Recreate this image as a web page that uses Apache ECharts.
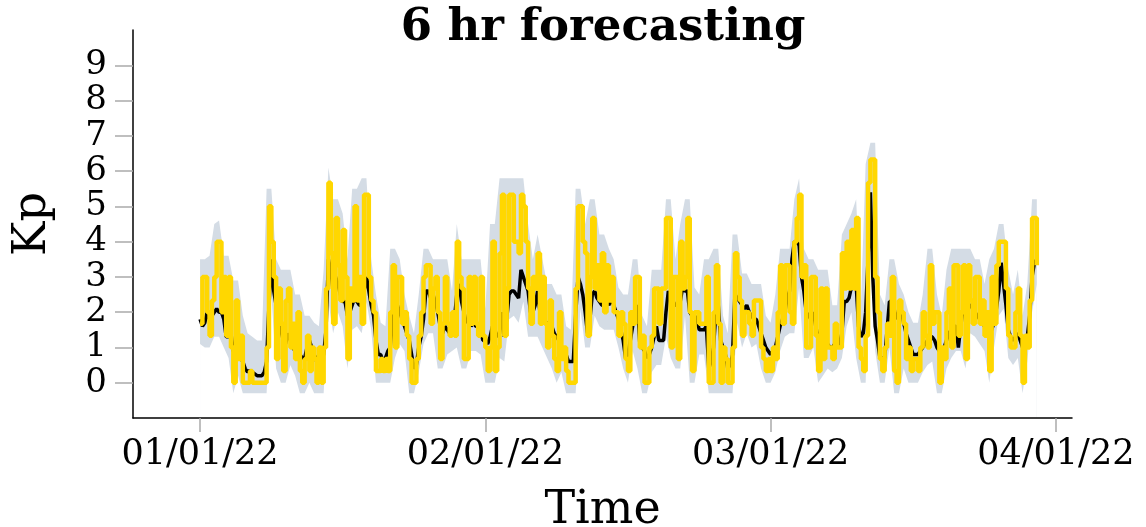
<!DOCTYPE html>
<html>
<head>
<meta charset="utf-8">
<script src="https://cdn.jsdelivr.net/npm/echarts@6/dist/echarts.min.js"></script>
<style>
  html, body { margin: 0; padding: 0; background: #ffffff; }
  #chart { width: 1146px; height: 527px; }
</style>
</head>
<body>
<div id="chart"></div>
<script>
// Observed Kp (3-hourly index, sampled every 6 h), days since 01/01/22
const OBS_STEP = 0.25;
const kpObserved = [
  1.67,3,3,2, 1.33,2.33,3,4, 4,2,3,1.33, 3,1,0,2.33, 0.67,1.33,0,0,
  0,0.33,0,0, 0,0,0,0, 1,5,4,3, 0.67,2.67,1.67,0.33, 2.33,2.67,1,1.67,
  0.67,2,0.33,0, 0.67,1.33,0.33,1, 0.67,0,1,0, 1,2.67,5.67,3.67, 1.67,4.67,3.33,2.33,
  4.33,3,0.67,2.67, 2.33,5,2.33,3, 1.67,5.33,5.33,3, 2.33,2,0.33,0.33, 0.67,0.33,0.67,0.33,
  2,3.33,1,3, 3,1.67,2,1.33, 0.67,0,0,0.67, 1.33,2,3,3.33, 3.33,1.67,2.67,3,
  2,0.67,1.67,3, 1.67,1.33,2,1.33, 4,3,2.67,0.67, 0.67,3,1.67,3, 1.67,1.33,3,1.33,
  1,0.33,1,4, 0.33,1,3.67,5.33, 1.33,2.67,5.33,5.33, 4,4,3.67,5.33, 5,4,2.67,1.67,
  3,2.67,3.67,1.67, 3,1.67,1,2.33, 1.33,0.67,0.33,2, 0.67,1,0.33,0, 0,0,2.67,5,
  5,4,3.67,1.33, 3,4.67,2.67,3.33, 2.33,3.67,2,3.33, 2.33,3,2,2, 1.33,2,1.67,0.67,
  0.33,2,1.67,3, 3,1,1.33,0, 0,1,1.33,2.67, 2.67,1.67,2.67,2.67, 4.67,4.67,1,3,
  3,0.67,4,2.67, 3,4.67,2,0.33, 2,2,1.67,1.67, 1.67,3,0,0, 2,3.33,1.67,0,
  1,0.67,0,0, 1,3.67,3,2.33, 1.33,2,2,1.67, 1.33,2.33,2.33,2.33, 1,0.67,0.33,0.67,
  0.33,1,0.67,2, 3.33,1.67,3.33,3.33, 2,1.67,4,4.67, 5.33,3,3.33,1, 1,3,3,1.33,
  0.33,2.67,0.67,2.67, 1,1,0.67,1.67, 1,1,3.67,2.67, 4,2.67,4.33,2.67, 4.67,1,0.67,0.33,
  1.33,5.67,6.33,6.33, 3,2,0.67,0.33, 1,1.67,1.33,3, 0.33,0,2.33,2, 1.67,0.67,1,0.33,
  0.67,0.67,0.33,1, 2,1.33,1,3.33, 1.67,2,2,0, 1,0.67,2,2.67, 1,3.33,3.33,1.33,
  2,3.33,0.67,3.33, 2.33,1.67,3,3, 1.67,2.33,1.33,2, 0.33,3,1.67,3.33, 4,4,4,2.67,
  1.33,1,1,2, 2.67,1.33,0,1.33, 1,2.33,4.67,4.67, 3.33
];

// 6 hr ahead forecast, same sampling
const kpForecast = [
  1.8,1.6,1.7,2.0, 1.8,1.9,2.0,2.1, 2.0,2.0,1.8,1.3, 1.3,1.4,0.9,0.8, 0.9,0.7,0.6,0.4,
  0.3,0.35,0.3,0.25, 0.2,0.2,0.2,0.3, 0.6,2.2,3.5,2.6, 2.2,1.8,1.5,1.2, 1.1,1.4,1.2,1.0,
  0.9,1.0,0.8,0.7, 0.7,1.0,1.2,1.0, 0.8,0.6,0.8,0.6, 0.8,1.5,3.5,3.2, 2.6,3.0,2.8,2.5,
  2.3,2.3,1.9,2.0, 2.2,2.4,2.3,2.2, 2.2,2.6,3.0,2.6, 2.2,1.9,1.2,0.8, 0.8,0.6,0.7,0.9,
  1.0,1.8,2.3,2.2, 2.0,1.8,1.6,1.4, 1.2,0.8,0.4,0.5, 1.0,1.3,1.8,2.6, 2.6,2.4,2.5,2.3,
  2.0,1.6,1.4,1.6, 1.5,1.4,1.6,1.8, 2.5,2.8,2.3,2.0, 1.7,1.8,1.6,1.7, 1.6,1.6,1.5,1.2,
  1.2,1.1,1.3,1.6, 1.5,1.3,1.4,2.0, 1.3,1.8,2.5,2.6, 2.6,2.5,2.4,3.2, 3.0,2.8,2.6,2.0,
  2.0,2.2,2.6,2.0, 1.9,1.7,1.7,1.7, 1.6,1.4,1.3,1.2, 1.0,0.9,0.8,0.6, 0.6,0.6,1.9,3.0,
  2.8,2.5,2.0,1.4, 1.8,2.5,2.6,2.4, 2.3,2.2,2.2,2.3, 2.2,2.4,2.2,2.0, 1.8,1.5,1.2,0.7,
  0.8,1.2,1.6,2.0, 2.2,1.1,1.0,0.9, 0.7,0.8,1.0,1.3, 1.6,1.2,1.2,1.2, 2.0,2.6,2.4,2.3,
  2.2,2.2,2.3,2.7, 2.6,2.6,2.0,1.9, 1.9,1.8,1.5,1.5, 1.5,1.6,0.4,0.6, 1.0,2.0,2.2,1.2,
  1.0,0.8,0.4,0.5, 0.8,2.5,2.4,2.3, 2.2,2.1,2.2,2.0, 1.9,1.8,1.8,1.6, 1.4,1.2,1.0,0.9,
  0.8,0.9,1.0,1.3, 1.6,1.8,2.0,2.4, 2.6,3.5,4.0,4.0, 3.9,3.0,2.6,2.0, 1.9,1.8,2.0,1.6,
  1.3,1.0,0.9,1.0, 1.1,1.0,1.0,1.1, 1.1,1.1,1.4,2.3, 2.3,2.4,2.7,3.2, 2.8,1.6,1.3,1.4,
  2.0,3.5,5.4,3.0, 1.6,1.2,0.7,0.7, 0.7,1.5,2.3,2.3, 2.0,1.8,2.1,2.0, 1.7,1.4,1.2,1.0,
  0.8,0.8,0.8,0.9, 1.0,1.1,1.2,1.3, 1.3,1.2,1.0,0.9, 0.9,1.0,1.2,1.4, 1.5,1.6,1.6,1.0,
  1.6,2.1,2.2,2.2, 2.2,2.1,2.0,1.9, 1.8,1.7,1.6,1.5, 1.4,1.5,1.7,2.1, 2.6,3.4,2.8,2.2,
  1.5,1.3,1.2,1.3, 1.4,1.2,1.0,1.1, 1.3,1.9,3.0,3.4, 3.5
];

// Forecast spread, sampled every 12 h
const BAND_STEP = 0.5;
const bandUpper = [
  3.5,3.5, 3.6,4.5, 4.6,3.6, 3.6,2.9, 2.9,1.9, 1.4,1.3, 1.2,1.2, 5.5,5.5, 3.5,3.2, 3.2,3.2,
  2.5,2.5, 1.9,1.9, 1.7,1.6, 3.2,6.1, 5.2,5.2, 4.8,3.5, 5.5,5.5, 5.8,5.8, 3.5,2.5, 1.7,1.6,
  3.8,3.8, 3.5,2.5, 1.9,1.4, 2.5,3.8, 3.8,3.5, 3.5,3.5, 3.5,2.6, 4.5,3.5, 3.5,3.5, 3.5,3.5,
  2.1,4.5, 4.5,5.8, 5.8,5.8, 5.8,5.8, 5.8,4.5, 3.5,4.2, 3.5,2.8, 2.8,2.5, 2.5,1.6, 1.5,5.5,
  5.5,4.5, 5.2,5.2, 4.2,4.2, 3.8,3.5, 2.7,2.5, 2.5,3.5, 3.5,1.9, 1.6,3.2, 3.2,3.2, 5.2,5.2,
  3.5,4.5, 5.2,5.2, 2.7,2.5, 3.5,3.5, 3.8,3.8, 1.9,1.4, 4.2,4.2, 3.1,3.1, 2.8,2.8, 2.8,1.9,
  1.7,2.5, 3.8,3.8, 3.8,5.2, 5.8,3.8, 3.5,3.5, 3.2,3.2, 3.2,2.2, 2.2,4.2, 4.5,4.8, 5.2,2.2,
  6.2,6.8, 6.8,2.5, 2.2,3.5, 3.5,2.8, 2.5,2.0, 1.7,1.7, 2.5,3.8, 3.8,2.5, 1.9,3.2, 3.8,3.8,
  3.8,3.8, 3.8,3.5, 3.5,2.8, 3.5,3.8, 4.5,4.5, 3.2,2.5, 3.2,1.9, 2.8,5.2, 5.2
];
const bandLower = [
  1.1,1.0, 1.0,1.3, 1.3,1.0, 0.7,-0.3, 0.2,-0.3, -0.3,-0.3, -0.3,-0.3, -0.3,2.5, 0.4,0.0, 0.0,0.5,
  0.2,-0.3, -0.3,0.0, -0.3,-0.3, -0.3,2.3, 1.4,2.0, 1.6,0.4, 1.5,1.6, 1.4,2.3, 1.5,0.0, 0.0,0.0,
  0.0,0.7, 1.1,0.9, -0.3,-0.3, 0.3,1.1, 1.4,1.4, 0.4,0.4, 0.8,0.9, 1.0,0.4, 0.4,0.9, 0.9,0.8,
  0.0,0.0, 0.0,0.7, 0.6,1.8, 1.9,1.7, 2.3,1.3, 1.3,1.3, 1.0,0.7, 0.4,0.0, 0.3,-0.3, -0.3,-0.3,
  2.1,1.0, 1.0,1.9, 1.6,1.5, 1.5,1.5, 1.0,0.4, 0.0,0.9, 0.4,-0.3, -0.3,0.3, 0.5,0.5, 1.3,0.7,
  0.4,0.4, 1.9,0.0, 0.0,0.8, 0.8,-0.3, -0.3,-0.3, -0.3,-0.3, -0.3,1.7, 1.0,1.4, 1.0,1.1, 0.4,0.0,
  0.0,0.3, 0.9,1.3, 1.4,1.4, 2.7,0.7, 0.7,1.0, 0.0,0.2, 0.4,0.3, 0.4,0.7, 1.6,2.0, 0.7,0.0,
  0.0,4.7, 0.9,0.0, 0.0,1.0, -0.3,-0.3, 0.4,0.0, 0.0,0.0, 0.3,0.5, 0.6,-0.3, -0.3,0.4, 0.7,0.9,
  0.9,0.4, 1.4,1.3, 1.1,0.9, 0.0,1.0, 1.9,2.1, 0.7,0.5, 0.7,-0.3, 0.6,2.0, 2.8
];

// Axis ticks
const tickDays = [0, 30, 60, 90];
const tickLabels = ['01/01/22', '02/01/22', '03/01/22', '04/01/22'];
const kpTicks = [0, 1, 2, 3, 4, 5, 6, 7, 8, 9];

const FONT = 'DejaVu Serif';
const BAND_COLOR = '#d4dce5';

const pairs = (arr, step) => arr.map((v, i) => [i * step, v]);

const chart = echarts.init(document.getElementById('chart'), null, { renderer: 'canvas' });

chart.setOption({
  animation: false,
  backgroundColor: '#ffffff',
  title: {
    text: '6 hr forecasting',
    left: 598,
    top: 1,
    textAlign: 'center',
    textStyle: { fontFamily: FONT, fontWeight: 'bold', fontSize: 45, color: '#000' }
  },
  grid: { left: 133, right: 74, top: 30, bottom: 109, containLabel: false, outerBoundsMode: 'none' },
  xAxis: {
    type: 'value',
    min: -7.05,
    max: 91.7,
    z: 10,
    name: 'Time',
    nameLocation: 'middle',
    nameGap: 70,
    nameTextStyle: { fontFamily: FONT, fontSize: 46, color: '#000' },
    splitLine: { show: false },
    axisLine: { show: true, onZero: false, lineStyle: { color: '#000', width: 1.5 } },
    axisTick: { show: true, length: 14, customValues: tickDays, lineStyle: { color: '#aaaaaa', width: 1.5 } },
    axisLabel: {
      customValues: tickDays,
      margin: 19,
      fontFamily: FONT, fontSize: 35, color: '#000',
      formatter: v => tickLabels[tickDays.indexOf(v)] || ''
    }
  },
  yAxis: {
    type: 'value',
    min: -1,
    max: 10,
    interval: 1,
    z: 10,
    name: 'Kp',
    nameLocation: 'middle',
    nameGap: 77,
    nameRotate: 90,
    nameTextStyle: { fontFamily: FONT, fontSize: 46, color: '#000' },
    splitLine: { show: false },
    axisLine: { show: true, onZero: false, lineStyle: { color: '#000', width: 1.5 } },
    axisTick: { show: true, length: 18, customValues: kpTicks, lineStyle: { color: '#aaaaaa', width: 1.5 } },
    axisLabel: {
      customValues: kpTicks,
      margin: 26,
      fontFamily: FONT, fontSize: 34, color: '#000'
    }
  },
  series: [
    {
      // spread: filled from the upper edge down ...
      name: 'spread-upper',
      type: 'line',
      data: pairs(bandUpper, BAND_STEP),
      symbol: 'none',
      lineStyle: { width: 0, opacity: 0 },
      areaStyle: { color: BAND_COLOR, opacity: 1, origin: 'start' },
      silent: true,
      z: 1
    },
    {
      // ... and cleared again below the lower edge
      name: 'spread-lower',
      type: 'line',
      data: pairs(bandLower, BAND_STEP),
      symbol: 'none',
      lineStyle: { width: 0, opacity: 0 },
      areaStyle: { color: '#ffffff', opacity: 1, origin: 'start' },
      silent: true,
      z: 1
    },
    {
      name: 'forecast',
      type: 'line',
      data: pairs(kpForecast, OBS_STEP),
      symbol: 'none',
      lineStyle: { color: '#000000', width: 3.5 },
      z: 2
    },
    {
      name: 'observed',
      type: 'line',
      step: 'end',
      data: pairs(kpObserved, OBS_STEP),
      symbol: 'none',
      lineStyle: { color: '#ffd700', width: 4.5 },
      z: 3
    }
  ]
});
</script>
</body>
</html>
